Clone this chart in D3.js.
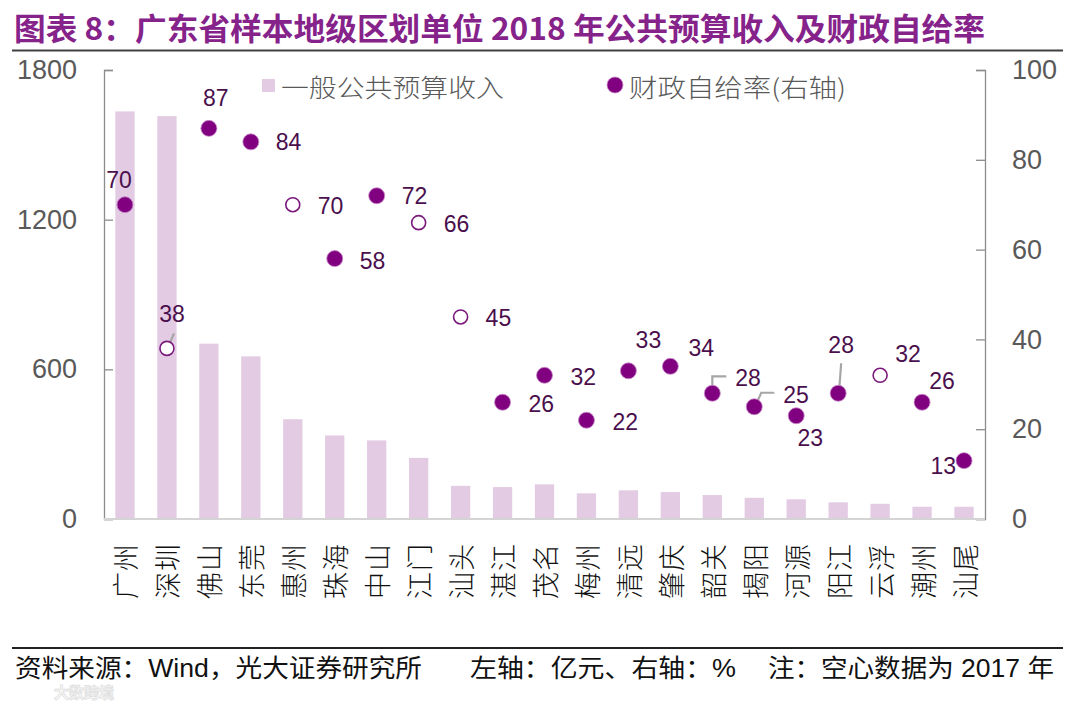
<!DOCTYPE html>
<html>
<head>
<meta charset="utf-8">
<script src="https://cdn.jsdelivr.net/npm/d3@7"></script>
<style>
  body { margin: 0; background: #fff; }
  svg { display: block; }
</style>
</head>
<body>
<script>
// data
var cities = ["广州", "深圳", "佛山", "东莞", "惠州", "珠海", "中山", "江门", "汕头", "湛江", "茂名",
    "梅州", "清远", "肇庆", "韶关", "揭阳", "河源", "阳江", "云浮", "潮州", "汕尾"];
var revenue = [1634, 1615, 703, 652, 400, 335, 315, 245, 133, 128, 139,
    103, 115, 108, 96, 85, 79, 67, 61, 49, 49];
var selfRate = [70, 38, 87, 84, 70, 58, 72, 66, 45, 26, 32,
    22, 33, 34, 28, 25, 23, 28, 32, 26, 13];
// 2017 data (drawn hollow)
var hollow = ["深圳", "惠州", "江门", "汕头", "云浮"];
var leftTicks = [0, 600, 1200, 1800];
var rightTicks = [0, 20, 40, 60, 80, 100];

// label placement: [anchor, dx, dy]
var labelPlace = {
    "广州": ["middle", -6, -17], "深圳": ["middle", 5, -26], "佛山": ["middle", 7, -22],
    "东莞": ["start", 25, 8], "惠州": ["start", 25, 9], "珠海": ["start", 25, 10],
    "中山": ["start", 25, 8], "江门": ["start", 25, 9], "汕头": ["start", 25, 9],
    "湛江": ["start", 26, 10], "茂名": ["start", 26, 10], "梅州": ["start", 26, 10],
    "清远": ["middle", 20, -23], "肇庆": ["middle", 31, -10], "韶关": ["start", 23, -7],
    "揭阳": ["start", 29, -4], "河源": ["middle", 14, 30], "阳江": ["middle", 3, -40],
    "云浮": ["middle", 28, -13], "潮州": ["middle", 20, -13], "汕尾": ["end", -8, 13]
};
var leaders = {
    "深圳": "M2,-3L7,-15",
    "韶关": "M0,-4V-17H14",
    "揭阳": "M2,-3L7,-14H20",
    "阳江": "M1,-3L3,-30"
};

var W = 1080, H = 704;
var x0 = 104, x1 = 985, yTop = 70, yBot = 519;

var svg = d3.select("body")
    .append("svg")
    .attr("width", W)
    .attr("height", H);

var x = d3.scaleBand()
    .domain(cities)
    .range([x0, x1])
    .paddingInner(0.54)
    .paddingOuter(0.27);

var yL = d3.scaleLinear().domain([0, 1800]).range([yBot, yTop]);
var yR = d3.scaleLinear().domain([0, 100]).range([yBot, yTop]);

// title
svg.append("text")
    .attr("x", 14)
    .attr("y", 40)
    .attr("textLength", 971)
    .attr("lengthAdjust", "spacingAndGlyphs")
    .style("font-family", "'Noto Sans CJK SC', sans-serif")
    .style("font-weight", "bold")
    .style("font-size", "31px")
    .style("fill", "#86238a")
    .text("图表 8：广东省样本地级区划单位 2018 年公共预算收入及财政自给率");

svg.append("line")
    .attr("x1", 12).attr("x2", 1063)
    .attr("y1", 50.5).attr("y2", 50.5)
    .attr("stroke", "#404040")
    .attr("stroke-width", 2);

// bars
svg.append("g")
    .selectAll("rect")
    .data(cities)
    .enter()
    .append("rect")
    .attr("x", function (d) { return x(d); })
    .attr("width", x.bandwidth())
    .attr("y", function (d, i) { return yL(revenue[i]); })
    .attr("height", function (d, i) { return yBot - yL(revenue[i]); })
    .attr("fill", "#e2cbe3");

// axes
var axisL = svg.append("g")
    .attr("transform", "translate(" + x0 + ",0)")
    .call(d3.axisLeft(yL).tickValues(leftTicks).tickFormat(d3.format("d"))
        .tickSizeInner(-9).tickSizeOuter(-9).tickPadding(27));

var axisR = svg.append("g")
    .attr("transform", "translate(" + x1 + ",0)")
    .call(d3.axisRight(yR).tickValues(rightTicks).tickFormat(d3.format("d"))
        .tickSizeInner(-9).tickSizeOuter(-9).tickPadding(27));

[axisL, axisR].forEach(function (g) {
    g.select(".domain").attr("stroke", "#8c8c8c").attr("stroke-width", 1.3);
    g.selectAll(".tick line").attr("stroke", "#8c8c8c").attr("stroke-width", 1.3);
    g.selectAll(".tick text")
        .style("font-family", "'Liberation Sans', Arial, sans-serif")
        .style("font-size", "27px")
        .attr("fill", "#595959");
});

svg.append("line")
    .attr("x1", x0).attr("x2", x1)
    .attr("y1", yBot).attr("y2", yBot)
    .attr("stroke", "#d4d4d4")
    .attr("stroke-width", 2);

// category labels, rotated
svg.append("g")
    .selectAll("text")
    .data(cities)
    .enter()
    .append("text")
    .attr("transform", function (d) {
        return "translate(" + (x(d) + x.bandwidth() / 2) + ",543) rotate(-90)";
    })
    .attr("text-anchor", "end")
    .attr("dominant-baseline", "central")
    .style("font-family", "'Noto Sans CJK SC', sans-serif")
    .style("font-weight", "300")
    .style("font-size", "27px")
    .style("letter-spacing", "1px")
    .attr("fill", "#111")
    .text(function (d) { return d; });

// leader lines
svg.append("g")
    .selectAll("path")
    .data(cities.filter(function (d) { return leaders[d]; }))
    .enter()
    .append("path")
    .attr("transform", function (d) {
        var i = cities.indexOf(d);
        return "translate(" + (x(d) + x.bandwidth() / 2) + "," + yR(selfRate[i]) + ")";
    })
    .attr("d", function (d) { return leaders[d]; })
    .attr("fill", "none")
    .attr("stroke", "#a6a6a6")
    .attr("stroke-width", 2.2);

// points
svg.append("g")
    .selectAll("circle")
    .data(cities)
    .enter()
    .append("circle")
    .attr("cx", function (d) { return x(d) + x.bandwidth() / 2; })
    .attr("cy", function (d, i) { return yR(selfRate[i]); })
    .attr("r", function (d) { return hollow.indexOf(d) >= 0 ? 7 : 8; })
    .attr("fill", function (d) { return hollow.indexOf(d) >= 0 ? "#fff" : "#800080"; })
    .attr("stroke", function (d) { return hollow.indexOf(d) >= 0 ? "#7a1a7c" : "#c98ac9"; })
    .attr("stroke-width", function (d) { return hollow.indexOf(d) >= 0 ? 1.6 : 0.8; });

// value labels
svg.append("g")
    .selectAll("text")
    .data(cities)
    .enter()
    .append("text")
    .attr("x", function (d) { return x(d) + x.bandwidth() / 2 + labelPlace[d][1]; })
    .attr("y", function (d, i) { return yR(selfRate[i]) + labelPlace[d][2]; })
    .attr("text-anchor", function (d) { return labelPlace[d][0]; })
    .style("font-family", "'Liberation Sans', Arial, sans-serif")
    .style("font-size", "23px")
    .attr("fill", "#4a0f4c")
    .text(function (d, i) { return selfRate[i]; });

// legend
svg.append("rect")
    .attr("x", 262).attr("y", 79)
    .attr("width", 13).attr("height", 13)
    .attr("fill", "#e2cbe3");
svg.append("text")
    .attr("x", 281).attr("y", 86)
    .attr("dominant-baseline", "central")
    .attr("textLength", 223)
    .attr("lengthAdjust", "spacingAndGlyphs")
    .style("font-family", "'Noto Sans CJK SC', sans-serif")
    .style("font-weight", "300")
    .style("font-size", "25px")
    .attr("fill", "#595959")
    .text("一般公共预算收入");

svg.append("circle")
    .attr("cx", 615).attr("cy", 85).attr("r", 8)
    .attr("fill", "#800080")
    .attr("stroke", "#c98ac9").attr("stroke-width", 0.8);
svg.append("text")
    .attr("x", 629).attr("y", 86)
    .attr("dominant-baseline", "central")
    .attr("textLength", 217)
    .attr("lengthAdjust", "spacingAndGlyphs")
    .style("font-family", "'Noto Sans CJK SC', sans-serif")
    .style("font-weight", "300")
    .style("font-size", "25px")
    .attr("fill", "#595959")
    .text("财政自给率(右轴)");

// footer
svg.append("line")
    .attr("x1", 12).attr("x2", 1063)
    .attr("y1", 648).attr("y2", 648)
    .attr("stroke", "#222")
    .attr("stroke-width", 2);

var footer = [
    ["资料来源：Wind，光大证券研究所", 15, 407],
    ["左轴：亿元、右轴：%", 470, 266],
    ["注：空心数据为 2017 年", 768, 286]
];
svg.append("g")
    .selectAll("text")
    .data(footer)
    .enter()
    .append("text")
    .attr("x", function (d) { return d[1]; })
    .attr("y", 677)
    .attr("textLength", function (d) { return d[2]; })
    .attr("lengthAdjust", "spacingAndGlyphs")
    .style("font-family", "'Liberation Sans', 'Noto Sans CJK SC', sans-serif")
    .style("font-size", "25px")
    .attr("fill", "#111")
    .text(function (d) { return d[0]; });

// faint watermark, kept just under the source line
svg.append("text")
    .attr("x", 54).attr("y", 698)
    .style("font-family", "'Noto Sans CJK SC', sans-serif")
    .style("font-weight", "bold")
    .style("font-size", "15px")
    .attr("fill", "none")
    .attr("stroke", "#e2e2e2")
    .attr("stroke-width", 1)
    .text("大数跨境");
</script>
</body>
</html>
